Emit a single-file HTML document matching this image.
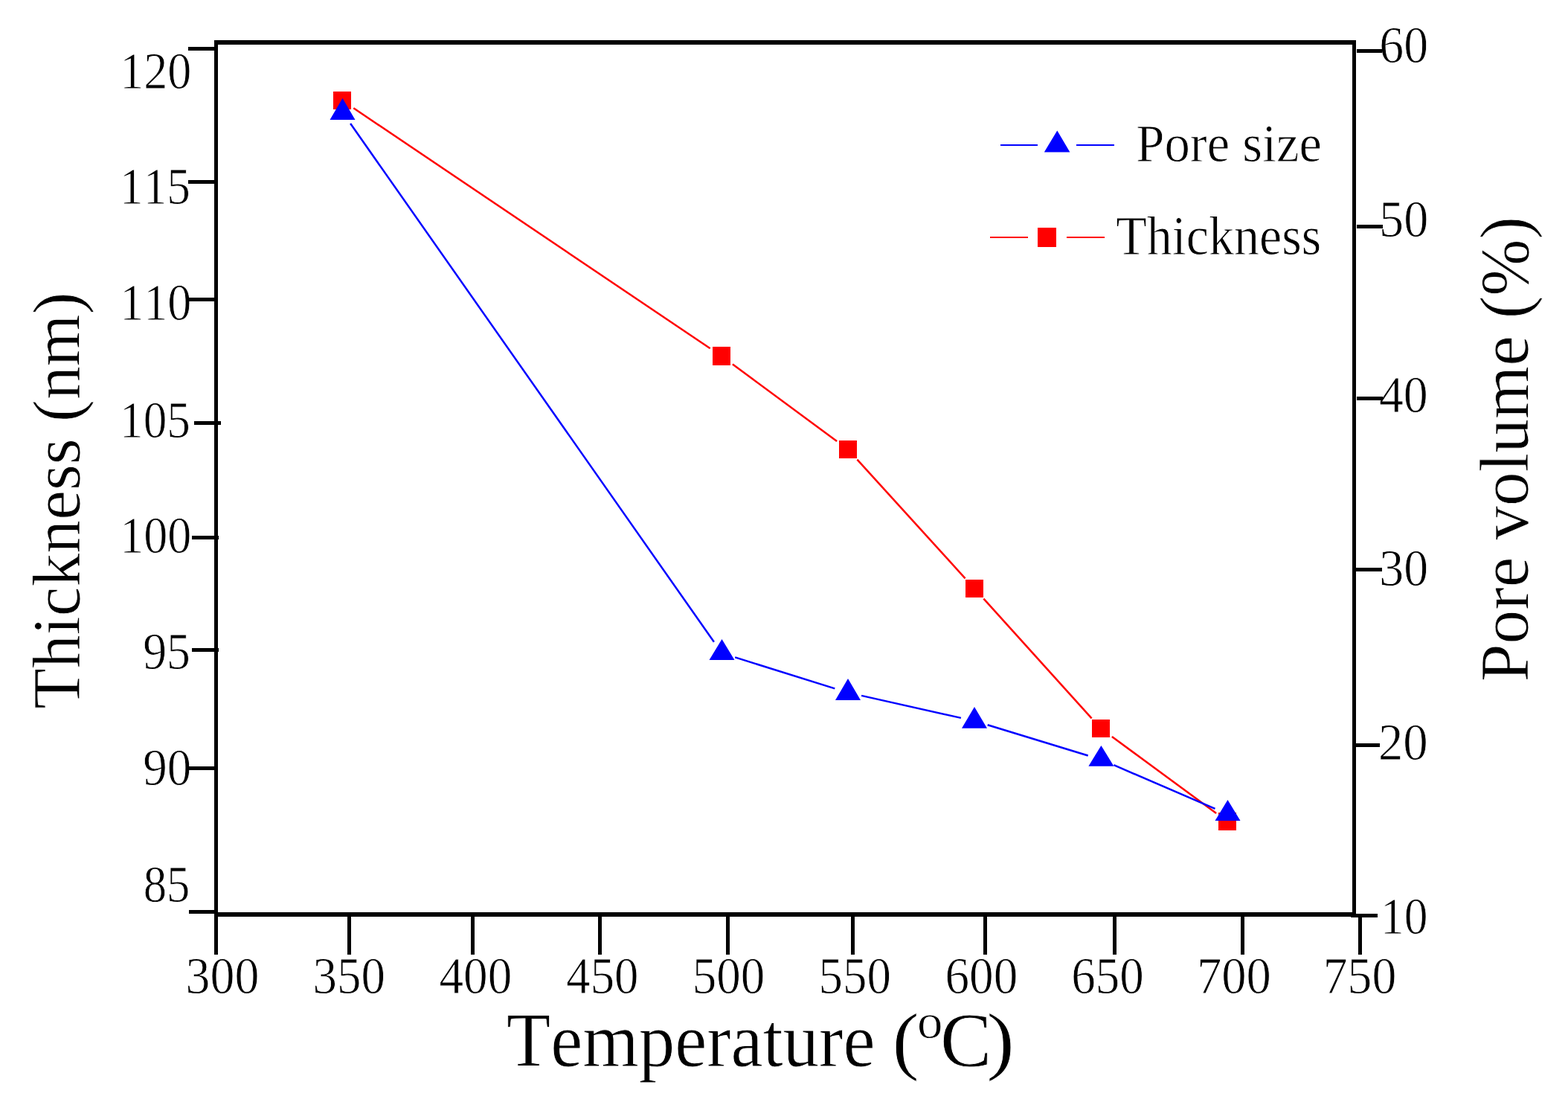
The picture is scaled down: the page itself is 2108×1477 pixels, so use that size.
<!DOCTYPE html>
<html><head><meta charset="utf-8"><title>Thickness and pore volume vs temperature</title>
<style>html,body{margin:0;padding:0;background:#fff;overflow:hidden}svg{display:block}text{font-family:"Liberation Serif", "Times New Roman", serif;fill:#000;font-kerning:none}.t text{stroke:#fff;stroke-width:0.8px}</style>
</head><body>
<svg width="2108" height="1477" viewBox="0 0 2108 1477">
<rect x="0" y="0" width="2108" height="1477" fill="#fff"/>
<g class="t">
<text transform="translate(161.196,118.55) scale(0.958,1.031)" font-size="67">120</text>
<text transform="translate(161.089,274) scale(0.944,1.031)" font-size="67">115</text>
<text transform="translate(161.196,430) scale(0.958,1.031)" font-size="67">110</text>
<text transform="translate(161.089,587.5) scale(0.944,1.031)" font-size="67">105</text>
<text transform="translate(161.196,742.5) scale(0.958,1.031)" font-size="67">100</text>
<text transform="translate(192.143,899.2) scale(0.952,1.031)" font-size="67">95</text>
<text transform="translate(192.284,1055.2) scale(0.972,1.031)" font-size="67">90</text>
<text transform="translate(192.692,1211.5) scale(0.936,1.031)" font-size="67">85</text>
<text transform="translate(249.465,1334.9) scale(0.984,1.031)" font-size="67">300</text>
<text transform="translate(420.42,1334.9) scale(0.97,1.031)" font-size="67">350</text>
<text transform="translate(590.453,1334.9) scale(0.974,1.031)" font-size="67">400</text>
<text transform="translate(761.263,1334.9) scale(0.968,1.031)" font-size="67">450</text>
<text transform="translate(930.712,1334.9) scale(0.972,1.031)" font-size="67">500</text>
<text transform="translate(1100.42,1334.9) scale(0.97,1.031)" font-size="67">550</text>
<text transform="translate(1270.48,1334.9) scale(0.973,1.031)" font-size="67">600</text>
<text transform="translate(1440.186,1334.9) scale(0.971,1.031)" font-size="67">650</text>
<text transform="translate(1608.927,1334.9) scale(0.995,1.031)" font-size="67">700</text>
<text transform="translate(1778.692,1334.9) scale(0.982,1.031)" font-size="67">750</text>
<text transform="translate(1854.354,84.3) scale(0.982,1.031)" font-size="67">60</text>
<text transform="translate(1854.047,318) scale(0.988,1.031)" font-size="67">50</text>
<text transform="translate(1853.935,553.7) scale(0.982,1.031)" font-size="67">40</text>
<text transform="translate(1854.267,786.5) scale(0.983,1.031)" font-size="67">30</text>
<text transform="translate(1852.905,1021.4) scale(0.998,1.031)" font-size="67">20</text>
<text transform="translate(1856.068,1255.2) scale(0.947,1.031)" font-size="67">10</text>
<text transform="translate(1527.258,217.439) scale(0.981,1.039)" font-size="70">Pore size</text>
<text transform="translate(1500.154,342.352) scale(0.973,1.052)" font-size="70">Thickness</text>
<text transform="translate(106.975,952.692) rotate(-90) scale(0.996,1.015)" font-size="90">Thickness (nm)</text>
<text transform="translate(2053.833,916.35) rotate(-90) scale(1.017,1.033)" font-size="90">Pore volume (%)</text>
<text transform="translate(681.059,1433.1) scale(0.97,1.031)" font-size="100">Temperature</text>
<text transform="translate(1199.38,1432.418) scale(1.084,1.009)" font-size="100">(</text>
<text transform="translate(1233.069,1394.5) scale(1.077,1.021)" font-size="64">o</text>
<text transform="translate(1264.013,1432.568) scale(1.037,1.032)" font-size="100">C</text>
<text transform="translate(1326.367,1432.418) scale(1.133,1.009)" font-size="100">)</text>
</g>
<rect x="288" y="54" width="1535" height="6" fill="#000"/>
<rect x="288" y="54" width="5" height="1229" fill="#000"/>
<rect x="288" y="1226" width="1530" height="6" fill="#000"/>
<rect x="1818" y="54" width="5" height="1174" fill="#000"/>
<rect x="1816" y="1228" width="36" height="5" fill="#000"/>
<rect x="1826" y="1228" width="5" height="55" fill="#000"/>
<rect x="253" y="63" width="35" height="5" fill="#000"/>
<rect x="253" y="242" width="35" height="5" fill="#000"/>
<rect x="254" y="400" width="34" height="5" fill="#000"/>
<rect x="261" y="566" width="36" height="5" fill="#000"/>
<rect x="258" y="720" width="36" height="5" fill="#000"/>
<rect x="258" y="871" width="36" height="5" fill="#000"/>
<rect x="253" y="1030" width="35" height="5" fill="#000"/>
<rect x="254" y="1223" width="34" height="5" fill="#000"/>
<rect x="467" y="1232" width="5" height="51" fill="#000"/>
<rect x="633" y="1232" width="5" height="51" fill="#000"/>
<rect x="804" y="1232" width="5" height="51" fill="#000"/>
<rect x="976" y="1232" width="5" height="51" fill="#000"/>
<rect x="1144" y="1232" width="5" height="51" fill="#000"/>
<rect x="1322" y="1232" width="5" height="51" fill="#000"/>
<rect x="1496" y="1232" width="5" height="51" fill="#000"/>
<rect x="1668" y="1232" width="5" height="51" fill="#000"/>
<rect x="1824" y="66" width="34" height="5" fill="#000"/>
<rect x="1824" y="302" width="35" height="5" fill="#000"/>
<rect x="1824" y="533" width="35" height="5" fill="#000"/>
<rect x="1823" y="763" width="35" height="5" fill="#000"/>
<rect x="1823" y="999" width="32" height="5" fill="#000"/>
<line x1="475.3" y1="145.3" x2="954.7" y2="468.2" stroke="#f00" stroke-width="2.5"/>
<line x1="984.9" y1="489.5" x2="1125.1" y2="593.0" stroke="#f00" stroke-width="2.5"/>
<line x1="1152.4" y1="617.7" x2="1297.6" y2="777.3" stroke="#f00" stroke-width="2.5"/>
<line x1="1322.4" y1="804.7" x2="1467.6" y2="965.3" stroke="#f00" stroke-width="2.5"/>
<line x1="1494.9" y1="990.0" x2="1635.1" y2="1093.0" stroke="#f00" stroke-width="2.5"/>
<rect x="448" y="123" width="24" height="24" fill="#f00"/>
<rect x="958" y="466" width="24" height="25" fill="#f00"/>
<rect x="1128" y="592" width="24" height="24" fill="#f00"/>
<rect x="1298" y="779" width="24" height="24" fill="#f00"/>
<rect x="1468" y="967" width="24" height="24" fill="#f00"/>
<rect x="1638" y="1092" width="24" height="24" fill="#f00"/>
<line x1="471.1" y1="166.0" x2="959.9" y2="862.8" stroke="#00f" stroke-width="2.5"/>
<line x1="988.2" y1="883.4" x2="1122.3" y2="925.4" stroke="#00f" stroke-width="2.5"/>
<line x1="1158.1" y1="934.9" x2="1291.9" y2="964.9" stroke="#00f" stroke-width="2.5"/>
<line x1="1327.7" y1="974.3" x2="1462.7" y2="1015.5" stroke="#00f" stroke-width="2.5"/>
<line x1="1497.4" y1="1028.2" x2="1633.5" y2="1086.8" stroke="#00f" stroke-width="2.5"/>
<polygon points="460.5,131.9 477.5,160.9 443.5,160.9" fill="#00f"/>
<polygon points="970.5,858.9 987.5,886.9 953.5,886.9" fill="#00f"/>
<polygon points="1140.0,911.9 1157.0,940.9 1123.0,940.9" fill="#00f"/>
<polygon points="1310.0,949.9 1327.0,978.8 1293.0,978.8" fill="#00f"/>
<polygon points="1480.4,1001.9 1497.4,1029.7 1463.4,1029.7" fill="#00f"/>
<polygon points="1650.5,1075.1 1667.5,1102.9 1633.5,1102.9" fill="#00f"/>
<rect x="1345" y="194" width="50" height="2" fill="#00f"/>
<rect x="1447" y="194" width="51" height="2" fill="#00f"/>
<polygon points="1421.3,175.5 1438.4,204.6 1403.8,204.6" fill="#00f"/>
<rect x="1331" y="318" width="51" height="2" fill="#f00"/>
<rect x="1434" y="318" width="51" height="2" fill="#f00"/>
<rect x="1395" y="306" width="25" height="26" fill="#f00"/>
</svg>
</body></html>
